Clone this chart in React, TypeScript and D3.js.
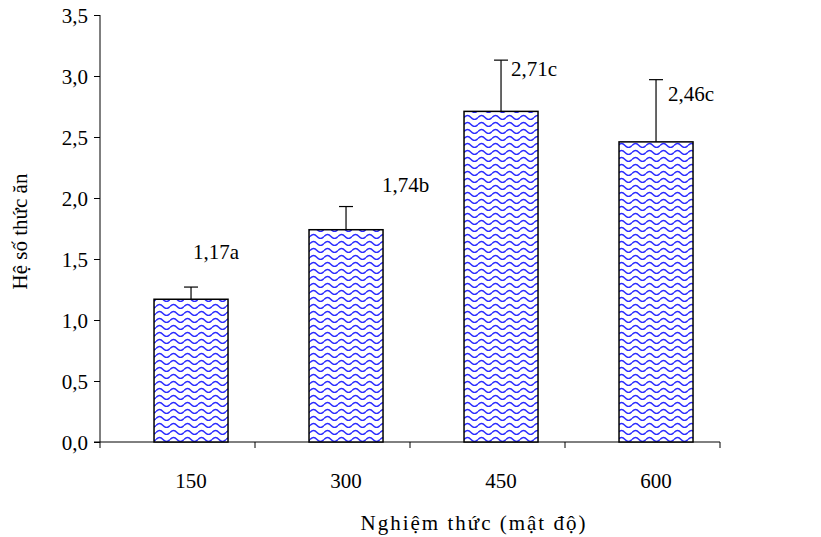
import React from "react";
import * as d3 from "d3";

const categories = ["150", "300", "450", "600"];
const means = [1.17, 1.74, 2.71, 2.46];
const errors = [0.1, 0.19, 0.42, 0.51];
const letters = ["a", "b", "c", "c"];
const yTicks = [0, 0.5, 1.0, 1.5, 2.0, 2.5, 3.0, 3.5];

// where each data label was dragged to (px from bar center / error cap)
const labelOffsets: [number, number][] = [
  [2, -28],
  [36, -15],
  [10, 16],
  [12, 21],
];

const FONT = "'Liberation Serif', 'Times New Roman', serif";

const App: React.FC = () => {
  const svgRef = React.useRef<SVGSVGElement>(null);

  const svgWidth = 821;
  const svgHeight = 537;
  const margin = { top: 15, right: 101, bottom: 95, left: 100 };
  const width = svgWidth - margin.left - margin.right;
  const height = svgHeight - margin.top - margin.bottom;

  React.useEffect(() => {
    const svgEl = d3.select(svgRef.current);
    svgEl.selectAll("*").remove();

    svgEl.attr("viewBox", `0 0 ${svgWidth} ${svgHeight}`);

    svgEl
      .append("rect")
      .attr("width", svgWidth)
      .attr("height", svgHeight)
      .attr("fill", "white");

    // wavy hatch fill
    const defs = svgEl.append("defs");
    const pat = defs
      .append("pattern")
      .attr("id", "wave")
      .attr("patternUnits", "userSpaceOnUse")
      .attr("width", 14)
      .attr("height", 7);
    pat.append("rect").attr("width", 14).attr("height", 7).attr("fill", "white");
    pat
      .append("path")
      .attr("d", "M0,4.5 Q3.5,0.5 7,4.5 T14,4.5")
      .attr("fill", "none")
      .attr("stroke", "#2b2bff")
      .attr("stroke-width", 1.4);

    const svg = svgEl
      .append("g")
      .attr("transform", `translate(${margin.left},${margin.top})`)
      .style("font-family", FONT);

    // bars sit right of center in each category slot (as in the original)
    const xScale = d3
      .scaleBand<string>()
      .domain(categories)
      .range([0, width])
      .paddingInner(0.5226)
      .paddingOuter(0.2613)
      .align(0.667);

    const yScale = d3.scaleLinear().domain([0, 3.5]).range([height, 0]);

    // y axis
    const yAxis = d3
      .axisLeft(yScale)
      .tickValues(yTicks)
      .tickSize(6)
      .tickPadding(6)
      .tickFormat((d) => d3.format(".1f")(d as number).replace(".", ","));
    const yAxisGroup = svg.append("g").call(yAxis);
    yAxisGroup.attr("font-family", FONT).attr("font-size", 21);
    yAxisGroup.select(".domain").attr("d", `M0,0V${height}`);
    yAxisGroup
      .selectAll("text")
      .attr("fill", "black")
      .attr("dy", "0.34em");
    yAxisGroup.selectAll("line").attr("stroke", "black");
    yAxisGroup.select(".domain").attr("stroke", "black");

    // x axis: ticks on category boundaries
    const step = width / categories.length;
    const xAxisGroup = svg
      .append("g")
      .attr("transform", `translate(0,${height})`);
    xAxisGroup
      .append("line")
      .attr("x1", -6)
      .attr("x2", width)
      .attr("stroke", "black");
    xAxisGroup
      .selectAll(".xtick")
      .data(d3.range(categories.length + 1))
      .join("line")
      .attr("class", "xtick")
      .attr("x1", (i) => i * step)
      .attr("x2", (i) => i * step)
      .attr("y1", 0)
      .attr("y2", 6)
      .attr("stroke", "black");
    xAxisGroup
      .selectAll(".xlabel")
      .data(categories)
      .join("text")
      .attr("class", "xlabel")
      .attr("x", (d) => xScale(d)! + xScale.bandwidth() / 2)
      .attr("y", 46)
      .attr("text-anchor", "middle")
      .attr("font-size", 21)
      .attr("fill", "black")
      .text((d) => d);

    // error bars (upper only)
    const gErr = svg.append("g");
    categories.forEach((c, i) => {
      const cx = xScale(c)! + xScale.bandwidth() / 2;
      gErr
        .append("line")
        .attr("x1", cx)
        .attr("x2", cx)
        .attr("y1", yScale(means[i]))
        .attr("y2", yScale(means[i] + errors[i]))
        .attr("stroke", "black")
        .attr("stroke-width", 1.2);
      gErr
        .append("line")
        .attr("x1", cx - 7)
        .attr("x2", cx + 7)
        .attr("y1", yScale(means[i] + errors[i]))
        .attr("y2", yScale(means[i] + errors[i]))
        .attr("stroke", "black")
        .attr("stroke-width", 1.2);
    });

    // bars
    svg
      .append("g")
      .selectAll("rect")
      .data(means)
      .join("rect")
      .attr("x", (d, i) => xScale(categories[i])!)
      .attr("y", (d) => yScale(d))
      .attr("width", xScale.bandwidth())
      .attr("height", (d) => height - yScale(d))
      .attr("fill", "url(#wave)")
      .attr("stroke", "black")
      .attr("stroke-width", 1.5);

    // value labels
    svg
      .append("g")
      .selectAll("text")
      .data(means)
      .join("text")
      .attr(
        "x",
        (d, i) =>
          xScale(categories[i])! + xScale.bandwidth() / 2 + labelOffsets[i][0]
      )
      .attr("y", (d, i) => yScale(d + errors[i]) + labelOffsets[i][1])
      .attr("font-size", 21)
      .attr("fill", "black")
      .text((d, i) => d.toFixed(2).replace(".", ",") + letters[i]);

    // axis titles
    svgEl
      .append("text")
      .attr("transform", `translate(27,${margin.top + height / 2 + 3}) rotate(-90)`)
      .attr("text-anchor", "middle")
      .style("font-family", FONT)
      .attr("font-size", 21)
      .attr("fill", "black")
      .text("Hệ số thức ăn");

    svgEl
      .append("text")
      .attr("x", 474)
      .attr("y", 530)
      .attr("text-anchor", "middle")
      .style("font-family", FONT)
      .attr("font-size", 21)
      .attr("letter-spacing", 2)
      .attr("fill", "black")
      .text("Nghiệm thức (mật độ)");
  }, []);

  return (
    <svg
      ref={svgRef}
      width={svgWidth}
      height={svgHeight}
      style={{ position: "absolute", left: 0, top: 0 }}
    />
  );
};

export default App;
